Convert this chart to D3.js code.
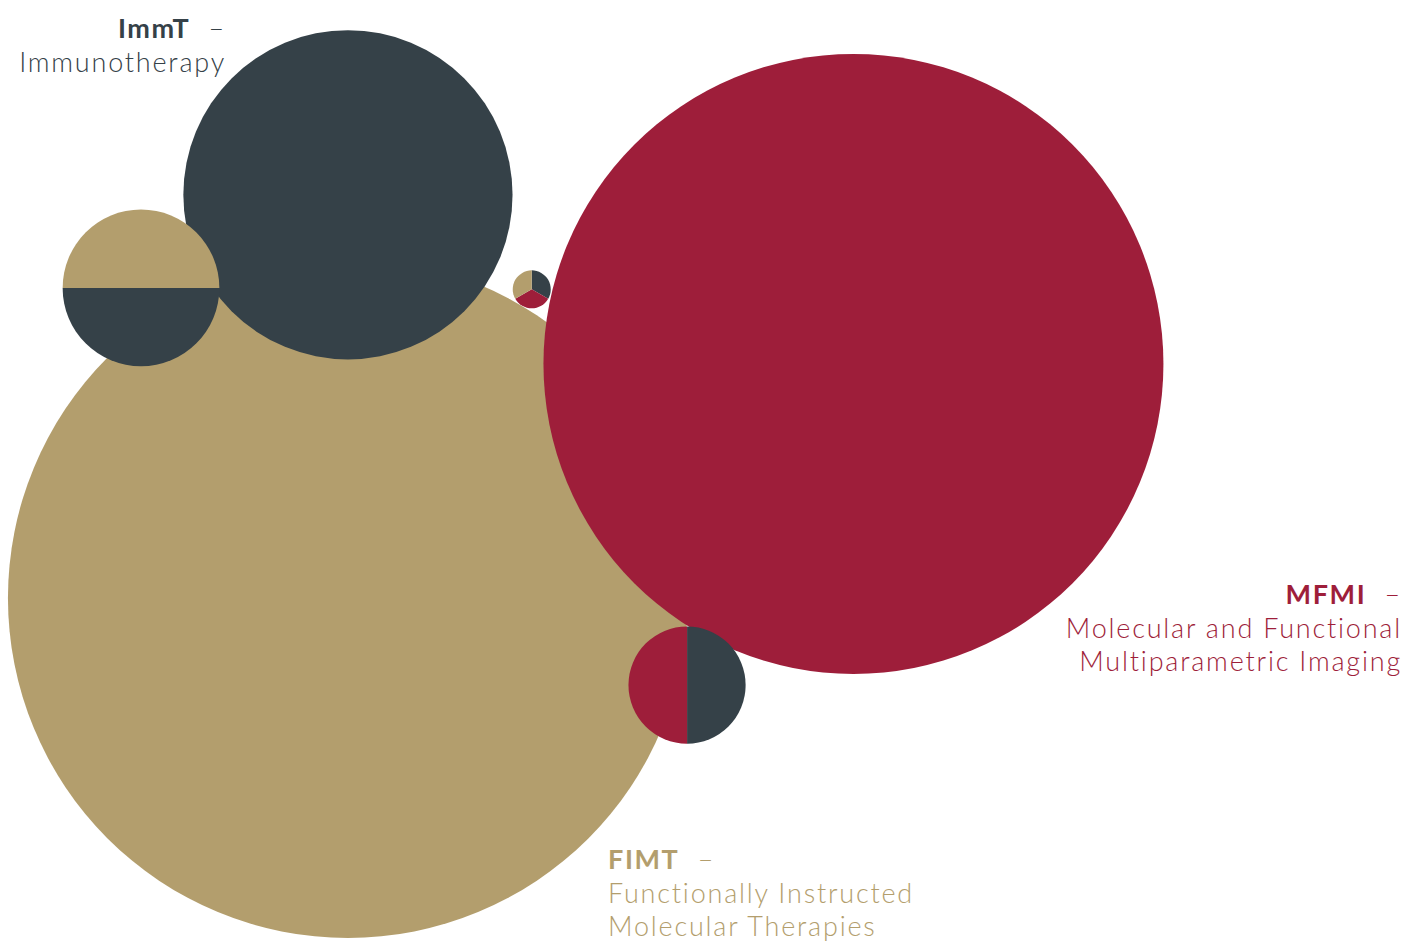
<!DOCTYPE html>
<html>
<head>
<meta charset="utf-8">
<script src="https://cdn.jsdelivr.net/npm/d3@7"></script>
<style>
  body { margin: 0; background: #fff; }
  svg { display: block; }
</style>
</head>
<body>
<script>
// data: groups (big circles) and overlaps (pies)
const groups = ['FIMT', 'ImmT', 'MFMI'];
const group_names = {
  FIMT: ['Functionally Instructed', 'Molecular Therapies'],
  ImmT: ['Immunotherapy'],
  MFMI: ['Molecular and Functional', 'Multiparametric Imaging']
};
const group_values = [320, 75, 266];

const overlap_ids = ['FIMT+ImmT', 'MFMI+ImmT', 'all'];
const overlap_members = [['FIMT', 'ImmT'], ['ImmT', 'MFMI'], ['ImmT', 'MFMI', 'FIMT']];
const overlap_values = [[8.5, 8.5], [4.75, 4.75], [1 / 3, 1 / 3, 1 / 3]];

// styles / layout
const colors = { FIMT: '#b39e6d', ImmT: '#354148', MFMI: '#9e1e3a' };
const W = 1403, H = 941;
// centres in layout units (0..100 for x, 0..100 for y)
const layout = {
  FIMT: [24.8, 63.55], ImmT: [24.8, 20.7], MFMI: [60.83, 38.68],
  'FIMT+ImmT': [10.05, 30.6], 'MFMI+ImmT': [48.97, 72.8], 'all': [37.9, 30.75]
};
const pie_start = { 'FIMT+ImmT': -Math.PI / 2, 'MFMI+ImmT': 0, 'all': 0 };

const x = d3.scaleLinear().domain([0, 100]).range([0, W]);
const y = d3.scaleLinear().domain([0, 100]).range([0, H]);
const r = d3.scaleSqrt().domain([0, 320]).range([0, 340]);

const svg = d3.select('body').append('svg')
  .attr('width', W).attr('height', H);

// big circles, FIMT first so others sit on top
const circ = svg.append('g').attr('class', 'layer-circles');
groups.forEach((g, i) => {
  circ.append('circle')
    .attr('cx', x(layout[g][0]))
    .attr('cy', y(layout[g][1]))
    .attr('r', r(group_values[i]))
    .attr('fill', colors[g]);
});

// overlap pies
const pies = svg.append('g').attr('class', 'layer-pies');
overlap_ids.forEach((id, i) => {
  const total = d3.sum(overlap_values[i]);
  const pie = d3.pie().sort(null)
    .startAngle(pie_start[id]).endAngle(pie_start[id] + 2 * Math.PI);
  const arc = d3.arc().innerRadius(0).outerRadius(r(total));
  const dat = overlap_members[i].map((m, j) => ({ m: m, v: overlap_values[i][j] }));
  pies.append('g')
    .attr('transform', `translate(${x(layout[id][0])}, ${y(layout[id][1])})`)
    .selectAll('path')
    .data(pie.value(d => d.v)(dat))
    .join('path')
    .attr('d', arc)
    .attr('fill', d => colors[d.data.m]);
});

// labels
const label_pos = {
  ImmT: { x: 226, y: 38, anchor: 'end' },
  MFMI: { x: 1402, y: 604, anchor: 'end' },
  FIMT: { x: 608, y: 869, anchor: 'start' }
};
const labs = svg.append('g').attr('class', 'labels')
  .style('font-family', 'Lato, "Open Sans", sans-serif')
  .style('letter-spacing', '1.8px');
groups.forEach((g) => {
  const p = label_pos[g];
  const t = labs.append('text')
    .attr('x', p.x).attr('y', p.y)
    .attr('text-anchor', p.anchor)
    .attr('fill', colors[g])
    .style('font-size', '27px');
  t.append('tspan').attr('font-weight', 700).style('letter-spacing', '1.6px').text(g);
  t.append('tspan').attr('font-weight', 300).attr('xml:space', 'preserve').text('  \u2013');
  group_names[g].forEach((line, k) => {
    t.append('tspan')
      .attr('x', p.x).attr('dy', 33.5)
      .attr('font-weight', 300)
      .text(line);
  });
});
</script>
</body>
</html>
